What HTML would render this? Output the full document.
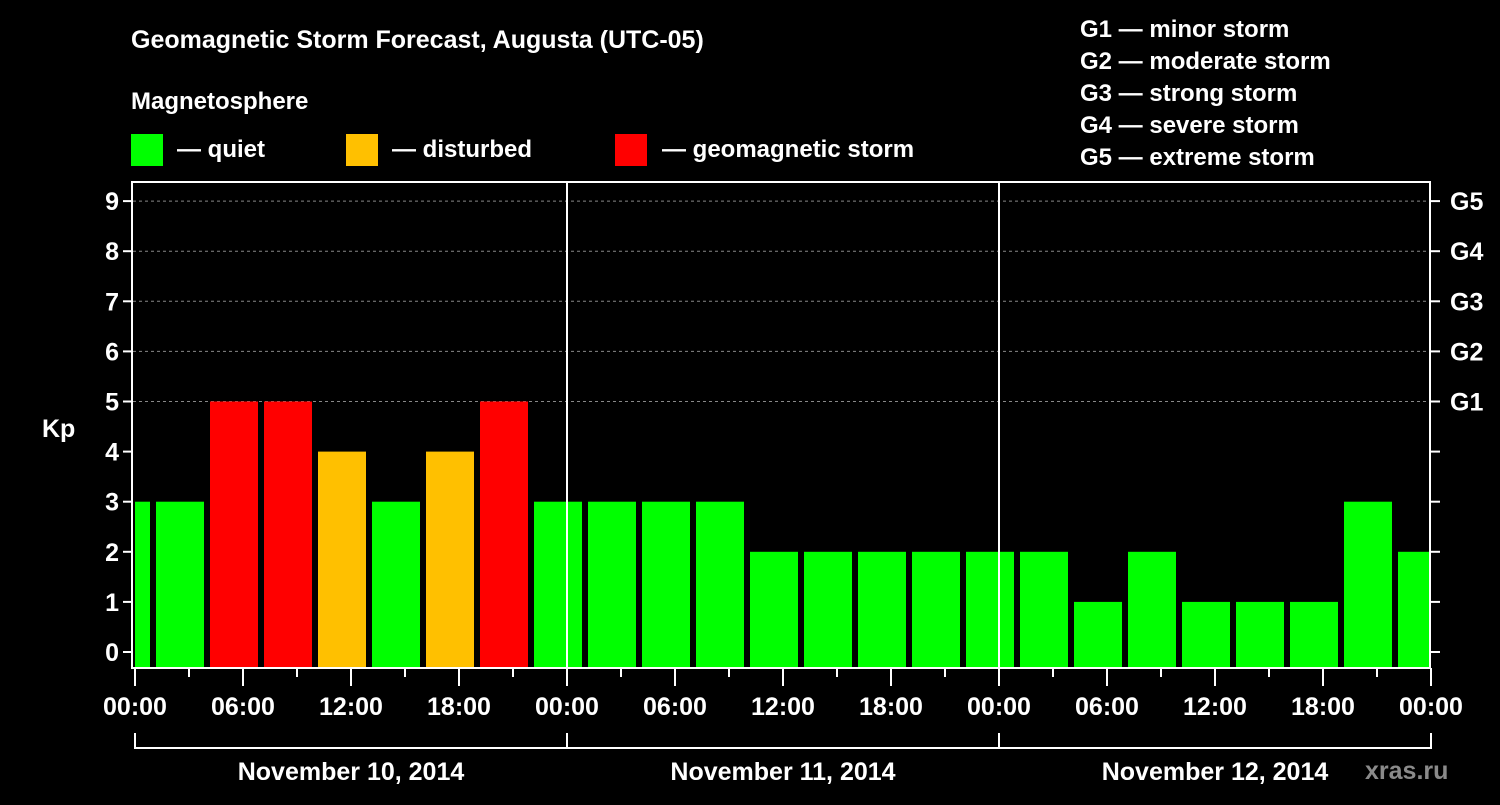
<!DOCTYPE html>
<html><head><meta charset="utf-8"><style>
body{margin:0;background:#000;width:1500px;height:800px;overflow:hidden}
svg text{font-family:"Liberation Sans",sans-serif;font-weight:bold;fill:#fff}
</style></head><body>
<svg id="c" width="1500" height="800" xmlns="http://www.w3.org/2000/svg">
<text x="131" y="48" font-size="25">Geomagnetic Storm Forecast, Augusta (UTC-05)</text>
<text x="131" y="109" font-size="24">Magnetosphere</text>
<g><rect x="131" y="134" width="32" height="32" fill="#00ff00"/><text x="177" y="157" font-size="24">— quiet</text></g>
<g><rect x="346" y="134" width="32" height="32" fill="#ffc000"/><text x="392" y="157" font-size="24">— disturbed</text></g>
<g><rect x="615" y="134" width="32" height="32" fill="#ff0000"/><text x="662" y="157" font-size="24">— geomagnetic storm</text></g>
<g font-size="24">
<text x="1080" y="37">G1 — minor storm</text>
<text x="1080" y="69">G2 — moderate storm</text>
<text x="1080" y="101">G3 — strong storm</text>
<text x="1080" y="133">G4 — severe storm</text>
<text x="1080" y="165">G5 — extreme storm</text>
</g>
<text x="42" y="437" font-size="25">Kp</text>
<text x="1365" y="779" font-size="25" fill="#888" style="fill:#8a8a8a">xras.ru</text>
<g id="grid"></g><g id="bars"></g><g id="axes"></g>
</svg>
<script>
const kpValues=[3,3,5,5,4,3,4,5,3,3,3,3,2,2,2,2,2,2,1,2,1,1,1,3,2];
const binStartHours=[-2,1,4,7,10,13,16,19,22,25,28,31,34,37,40,43,46,49,52,55,58,61,64,67,70];
const xTickLabels=["00:00","06:00","12:00","18:00","00:00","06:00","12:00","18:00","00:00","06:00","12:00","18:00","00:00"];
const dayLabels=["November 10, 2014","November 11, 2014","November 12, 2014"];
const gLabels=["G1","G2","G3","G4","G5"];
const L=133,R=1430,T=182,B=668;
const xs=h=>135+h*18;
const ys=v=>652-v*50.1;
const NS="http://www.w3.org/2000/svg";
function mk(t,a,p){const e=document.createElementNS(NS,t);for(const k in a)e.setAttribute(k,a[k]);p.appendChild(e);return e;}
const grid=document.getElementById('grid'),bars=document.getElementById('bars'),axes=document.getElementById('axes');
for(let v=5;v<=9;v++){const l=mk('line',{x1:L,x2:R,y1:ys(v),y2:ys(v),stroke:'#888','stroke-dasharray':'3,3','stroke-width':1},grid);

}
kpValues.forEach((v,i)=>{
let x0=xs(binStartHours[i])+3,x1=xs(binStartHours[i]+3)-3;
x0=Math.max(x0,135);x1=Math.min(x1,R);
const col=v>=5?'#ff0000':(v>=4?'#ffc000':'#00ff00');
const r=mk('rect',{x:x0,y:ys(v),width:x1-x0,height:B-ys(v),fill:col},bars);


});
[567,999].forEach(x=>{const l=mk('line',{x1:x,x2:x,y1:T,y2:B,stroke:'#fff','stroke-width':2},axes);

});
const fr=mk('rect',{x:L-1,y:T,width:R-L+1,height:B-T,fill:'none',stroke:'#fff','stroke-width':2},axes);


for(let v=0;v<=9;v++){
mk('line',{x1:L-10,x2:L,y1:ys(v),y2:ys(v),stroke:'#fff','stroke-width':2},axes);
mk('line',{x1:R,x2:R+10,y1:ys(v),y2:ys(v),stroke:'#fff','stroke-width':2},axes);
const t=mk('text',{x:L-14,y:ys(v)+9,'font-size':25,'text-anchor':'end'},axes);t.textContent=v;

}
gLabels.forEach((g,i)=>{const t=mk('text',{x:R+20,y:ys(5+i)+9,'font-size':25},axes);t.textContent=g;

});
for(let h=0;h<=72;h+=3){const maj=h%6==0;mk('line',{x1:xs(h),x2:xs(h),y1:B,y2:B+(maj?18:9),stroke:'#fff','stroke-width':2},axes);}
xTickLabels.forEach((s,i)=>{const t=mk('text',{x:xs(i*6),y:715,'font-size':25,'text-anchor':'middle'},axes);t.textContent=s;

});
mk('line',{x1:xs(0),x2:xs(72),y1:748,y2:748,stroke:'#fff','stroke-width':2},axes);
for(let d=0;d<=3;d++)mk('line',{x1:xs(d*24),x2:xs(d*24),y1:733,y2:749,stroke:'#fff','stroke-width':2},axes);
dayLabels.forEach((s,i)=>{const t=mk('text',{x:xs(i*24+12),y:780,'font-size':25,'text-anchor':'middle'},axes);t.textContent=s;

});
</script>
</body></html>
